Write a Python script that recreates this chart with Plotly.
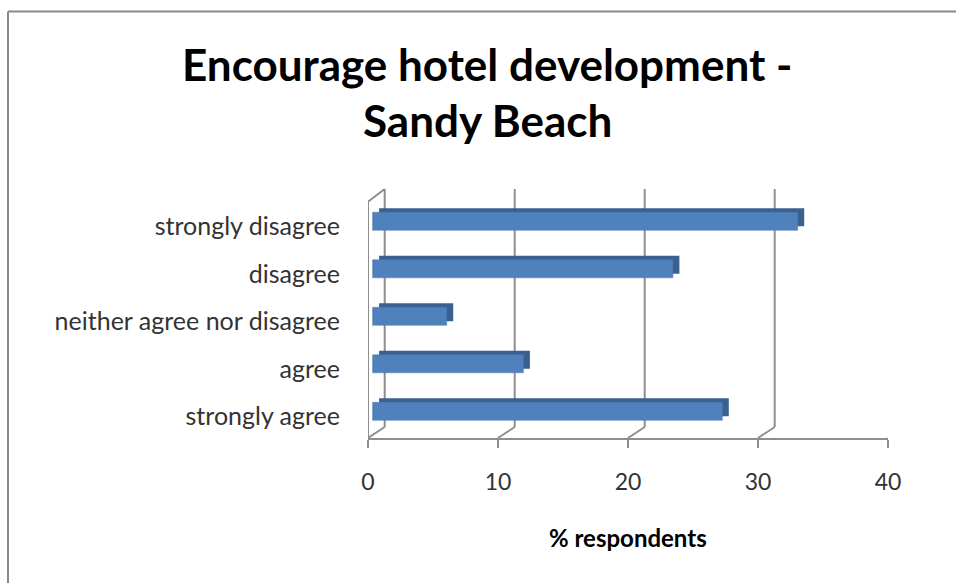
import plotly.graph_objects as go

# ---- data ----
categories = ["strongly agree", "agree", "neither agree nor disagree", "disagree", "strongly disagree"]
values = [26.9, 11.6, 5.7, 23.1, 32.7]
x_ticks = [0, 10, 20, 30, 40]
x_title = "% respondents"
title_lines = ["Encourage hotel development -", "Sandy Beach"]

# ---- geometry / style ----
W, H = 956, 583
L, T = 368, 189
plot_w, plot_h = 520, 249
R = W - L - plot_w
B = H - T - plot_h
ppu = plot_w / 40.0                  # pixels per x unit
depth_dx = 16.7                      # 3D depth offset (px)
depth_dy = 11.0
cat_px = 47.5                        # px per category
grid_col = "#8E8E8E"
front_col = "#4F81BD"
dark_col = "#3A6090"
font_fam = "Lato, Carlito, Calibri, sans-serif"


def px_x(ref_x):
    return (ref_x - L) / plot_w


def px_y(ref_y):
    return (T + plot_h - ref_y) / plot_h


bar_w = 18.0 / cat_px
front_off = 5.2 / cat_px - bar_w / 2
dark_off = front_off + 4.0 / cat_px
bar_shift = 4.6 / ppu

fig = go.Figure()

# dark "3D" faces (top + side), slightly behind and up/right
fig.add_trace(go.Bar(
    y=list(range(len(categories))), x=values, orientation="h",
    base=6.5 / ppu, width=bar_w, offset=dark_off,
    marker=dict(color=dark_col, line=dict(width=0)),
    xaxis="x2", yaxis="y", hoverinfo="skip", showlegend=False,
))
# front faces
fig.add_trace(go.Bar(
    y=list(range(len(categories))), x=values, orientation="h",
    width=bar_w, offset=front_off,
    marker=dict(color=front_col, line=dict(color="#4A7AB3", width=0.5)),
    xaxis="x2", yaxis="y", showlegend=False,
    hovertemplate="%{x}%<extra></extra>",
))

shapes = []
back_y0 = depth_dy / plot_h
left_top = px_y(201.7)
line = dict(color=grid_col, width=2)
for v in x_ticks:
    # back wall gridline
    shapes.append(dict(type="line", xref="x", xsizemode="pixel", xanchor=v,
                       x0=depth_dx, x1=depth_dx, yref="paper", y0=back_y0, y1=1.0,
                       line=line, layer="below"))
    # floor diagonal
    shapes.append(dict(type="line", xref="x", xsizemode="pixel", xanchor=v,
                       x0=0, x1=depth_dx, yref="paper", y0=0, y1=back_y0,
                       line=line, layer="below"))
# left wall front edge and top diagonal
shapes.append(dict(type="line", xref="x", xsizemode="pixel", xanchor=x_ticks[0],
                   x0=0, x1=0, yref="paper", y0=0, y1=left_top, line=line, layer="below"))
shapes.append(dict(type="line", xref="x", xsizemode="pixel", xanchor=x_ticks[0],
                   x0=0, x1=depth_dx, yref="paper", y0=left_top, y1=1.0, line=line, layer="below"))
# chart border: top and left edges
border = dict(color="#8A8A8A", width=2)
shapes.append(dict(type="line", xref="paper", yref="paper",
                   x0=px_x(8), x1=px_x(990), y0=px_y(11.5), y1=px_y(11.5),
                   line=border, layer="below"))
shapes.append(dict(type="line", xref="paper", yref="paper",
                   x0=px_x(8), x1=px_x(8), y0=px_y(11.5), y1=px_y(620),
                   line=border, layer="below"))

y_bottom = -21.5 / cat_px
y_top = 4 + (226.5 - T) / cat_px

annotations = [
    dict(text="<b>" + x_title + "</b>", xref="paper", yref="paper",
         x=px_x(628), y=px_y(537), xanchor="center", yanchor="middle",
         showarrow=False, font=dict(size=24, color="#000000", family=font_fam)),
]
for txt, cy in zip(title_lines, [64, 120]):
    annotations.append(dict(text="<b>" + txt + "</b>", xref="paper", yref="paper",
                            x=px_x(487), y=px_y(cy), xanchor="center", yanchor="middle",
                            showarrow=False,
                            font=dict(size=44, color="#000000", family=font_fam)))

fig.update_layout(
    width=W, height=H,
    margin=dict(l=L, r=R, t=T, b=B, autoexpand=False),
    paper_bgcolor="white", plot_bgcolor="rgba(0,0,0,0)",
    barmode="overlay",
    font=dict(family=font_fam, color="#333333"),
    xaxis=dict(range=[0, 40], tickvals=x_ticks, ticktext=[str(t) for t in x_ticks],
               showgrid=False, zeroline=False, showline=True, linecolor=grid_col, linewidth=2,
               ticks="outside", ticklen=8, tickwidth=2, tickcolor=grid_col,
               ticklabelstandoff=14,
               tickfont=dict(size=23, color="#333333", family=font_fam), fixedrange=True),
    xaxis2=dict(overlaying="x", range=[-bar_shift, 40 - bar_shift], visible=False,
                fixedrange=True),
    yaxis=dict(range=[y_bottom, y_top], tickvals=list(range(len(categories))),
               ticktext=categories, showgrid=False, zeroline=False, showline=False,
               ticks="outside", ticklen=22, tickcolor="rgba(0,0,0,0)",
               tickfont=dict(size=25, color="#333333", family=font_fam), fixedrange=True),
    shapes=shapes,
    annotations=annotations,
)

fig.write_html(
    "out.html",
    config={"displayModeBar": False},
    post_script="document.body.style.margin='0';document.body.style.overflow='hidden';",
)
